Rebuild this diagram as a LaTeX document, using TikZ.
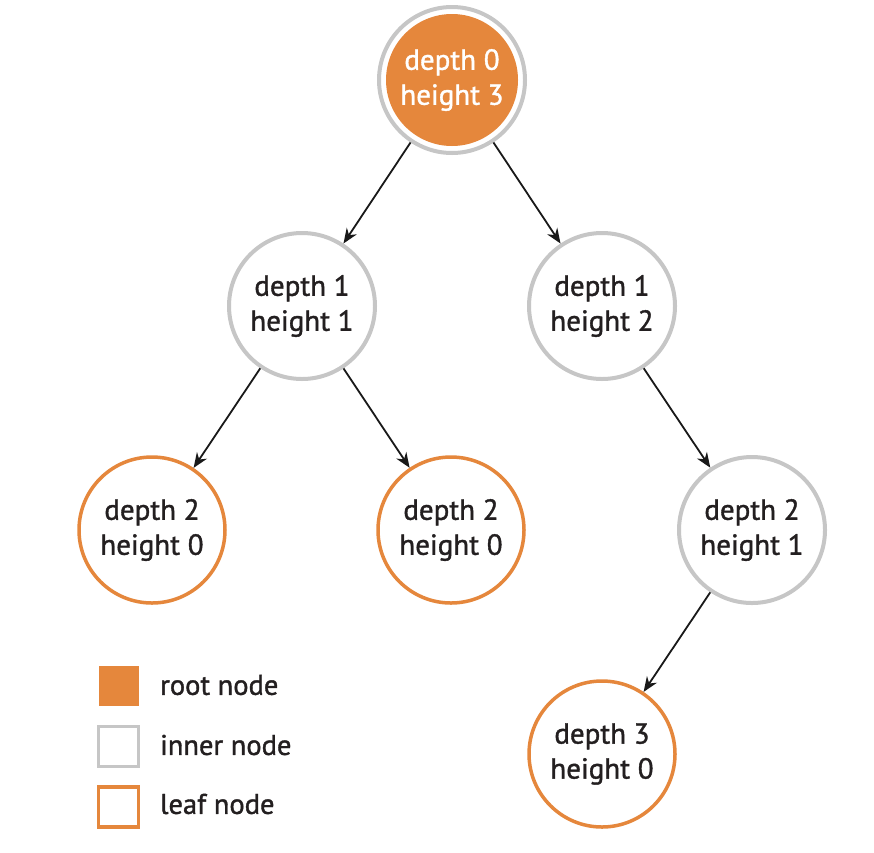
\documentclass[tikz,border=0pt]{standalone}
\usepackage{fontspec}
\setmainfont{PT Sans}
\newfontfamily\labelfont{PT Sans}[FakeBold=1.3]
\usetikzlibrary{arrows.meta}
\definecolor{treeorange}{HTML}{E5873C}
\definecolor{treegray}{HTML}{C6C6C6}
\definecolor{inktext}{HTML}{231F20}
\tikzset{
  treenode/.style={circle, minimum size=146pt, inner sep=0pt, line width=4pt,
    align=center, text=inktext, font=\labelfont\fontsize{29}{35}\selectfont},
  innernode/.style={treenode, draw=treegray, fill=white},
  leafnode/.style={treenode, draw=treeorange, line width=3.5pt, fill=white},
  rootnode/.style={treenode, draw=treegray, fill=white, text=white,
    path picture={\fill[treeorange] (path picture bounding box.center) circle (66pt);}},
  edge/.style={line width=1.8pt, draw=black!90, -{Stealth[length=15pt,width=12pt]}},
  keybox/.style={minimum size=40pt, inner sep=0pt, line width=3.5pt},
  keytext/.style={anchor=west, text=inktext, font=\labelfont\fontsize{28.5}{30}\selectfont, inner sep=0pt}
}
\begin{document}
\begin{tikzpicture}[x=1pt,y=-1pt]
  \useasboundingbox (0,0) rectangle (874,852);

  % tree
  \node[rootnode]  (root) at (452,80)  {depth 0\\height 3};
  \node[innernode] (a)    at (302,306) {depth 1\\height 1};
  \node[innernode] (b)    at (602,306) {depth 1\\height 2};
  \node[leafnode]  (aa)   at (152,530) {depth 2\\height 0};
  \node[leafnode]  (ab)   at (451,530) {depth 2\\height 0};
  \node[innernode] (ba)   at (752,530) {depth 2\\height 1};
  \node[leafnode]  (baa)  at (602,754) {depth 3\\height 0};

  \draw[edge] (root) -- (a);
  \draw[edge] (root) -- (b);
  \draw[edge] (a) -- (aa);
  \draw[edge] (a) -- (ab);
  \draw[edge] (b) -- (ba);
  \draw[edge] (ba) -- (baa);

  % key
  \node[keybox, fill=treeorange] (k1) at (118.5,686) {};
  \node[keybox, draw=treegray, fill=white] (k2) at (118.5,746.5) {};
  \node[keybox, draw=treeorange, fill=white] (k3) at (118.5,807) {};
  \node[keytext] (t1) at (160,685) {root node};
  \node[keytext] (t2) at (160,745) {inner node};
  \node[keytext] (t3) at (160,804) {leaf node};
\end{tikzpicture}
\end{document}
